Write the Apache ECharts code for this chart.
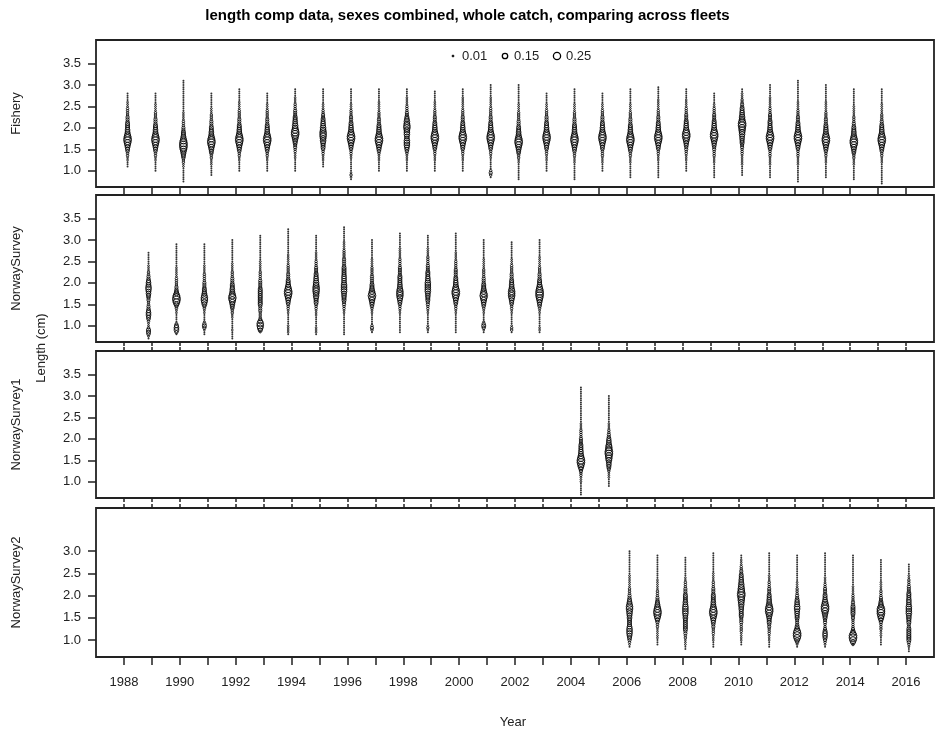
<!DOCTYPE html>
<html>
<head>
<meta charset="utf-8">
<script src="https://cdn.jsdelivr.net/npm/echarts@6.0.0/dist/echarts.min.js"></script>
<style>
  html, body { margin: 0; padding: 0; background: #fff; }
  #chart { width: 935px; height: 732px; }
</style>
</head>
<body>
<div id="chart"></div>
<script>
// length comp bubbles; bins are 0.05 cm wide
// each column: [year, first length bin, bubble level per bin going up]
const fleetNames = ['Fishery', 'NorwaySurvey', 'NorwaySurvey1', 'NorwaySurvey2']
const seasonShift = [0.13, -0.12, 0.36, 0.1] // where a fleet's column sits within its year
const binWidth = 0.05
const levelProps = [0, 0.01, 0.02, 0.035, 0.055, 0.08, 0.11, 0.15, 0.2, 0.27]
const legendProps = [0.01, 0.15, 0.25]
const yearTicks = [1988, 1989, 1990, 1991, 1992, 1993, 1994, 1995, 1996, 1997, 1998, 1999, 2000, 2001, 2002,
  2003, 2004, 2005, 2006, 2007, 2008, 2009, 2010, 2011, 2012, 2013, 2014, 2015, 2016]
const yearLabels = [1988, 1990, 1992, 1994, 1996, 1998, 2000, 2002, 2004, 2006, 2008, 2010, 2012, 2014, 2016]
const lengthTicks = [1.0, 1.5, 2.0, 2.5, 3.0, 3.5]
const lengthTicksLast = [1.0, 1.5, 2.0, 2.5, 3.0]

const fisheryComps = [
  [1988, 1.10, '11122334567899876655544433332221111'],
  [1989, 1.00, '1111122334567899876655444333222211111'],
  [1990, 0.75, '111111122334567899987655443332222111111111111111'],
  [1991, 0.90, '111112223345678998766554443332221111111'],
  [1992, 1.00, '111112233456789987665544433332222111111'],
  [1993, 1.00, '1111122334567899876655444333322211111'],
  [1994, 1.00, '111111222334456789987766554443332221111'],
  [1995, 1.10, '1112223345567788877665544332221111111'],
  [1996, 0.80, '1232111111223345678998766554443332221111111'],
  [1997, 1.00, '111112223456789987665544433322222111111'],
  [1998, 1.00, '111112223456777667778877654433322221111'],
  [1999, 1.00, '11111222334567899876655444333222211111'],
  [2000, 1.00, '111112223345678998766554443332222221111'],
  [2001, 0.85, '13431111122334567899876655444333322222111111'],
  [2002, 0.80, '111111112233456789987665544433332222111111111'],
  [2003, 1.00, '1111122233456789987665544433322211111'],
  [2004, 0.80, '1111111122233456789987665544433322221111111'],
  [2005, 1.00, '1111222333456789987665544433322211111'],
  [2006, 0.85, '111111122233456789987665544433322221111111'],
  [2007, 0.85, '1111111122233456789987665544433322222111111'],
  [2008, 1.00, '111112223344567899876655444333222211111'],
  [2009, 0.85, '1111111222333445678998766554443332211111'],
  [2010, 0.90, '11111222223334455667788998776655443322211'],
  [2011, 0.85, '11111122223334567899876655544433322222111111'],
  [2012, 0.75, '111111112222333456789987665544433322221111111111'],
  [2013, 0.85, '11111112223345678998766554443332222211111111'],
  [2014, 0.80, '1111111222334567899876655443332222211111111'],
  [2015, 0.70, '111111111122233456789987665544333222221111111']
]

const norwayComps = [
  [1989, 0.70, '12455322345665443344566776654433222111111'],
  [1990, 0.80, '1466531111223468998654433332222211111111111'],
  [1991, 0.80, '1124542111223467887655444333322221111111111'],
  [1992, 0.70, '11112111112233456789876655444333222211111111111'],
  [1993, 0.85, '2578864333444555555554444333322222111111111111'],
  [1994, 0.80, '12222111112233456789987655444333322222111111111111'],
  [1995, 0.80, '12221111122233455677888776655444333222211111111'],
  [1996, 0.80, '111111111122334455667777666655554444333322221111111'],
  [1997, 0.85, '13431111122345678987655444433332222111111111'],
  [1998, 0.85, '11111111122334567888766555544443333222221111111'],
  [1999, 0.85, '1232111112233445566777776655544433332222111111'],
  [2000, 0.85, '11111111122334567899876655444433332222111111111'],
  [2001, 0.85, '12454211122345678987655444333322222111111111'],
  [2002, 0.85, '1332111112233456788876655444333322211111111'],
  [2003, 0.85, '12211111122345678999876554443332222211111111']
]

const norway1Comps = [
  [2004, 0.70, '111111222334578998766555444333322211111111111111111'],
  [2005, 0.90, '1111222345667889988766544332221111111111111']
]

const norway2Comps = [
  [2006, 0.85, '12345677765556677887654433322222211111111111'],
  [2007, 0.90, '11122222334578998765443332222211111111111'],
  [2008, 0.80, '112223344555556677776655544433322111111111'],
  [2009, 0.85, '1112223334456789987665554443332222111111111'],
  [2010, 0.90, '11222233334445556677889988776655443322211'],
  [2011, 0.85, '1112223334455678998766554443332221111111111'],
  [2012, 0.85, '124689986544455667766544333222111111111111'],
  [2013, 0.85, '1234566543344567899876554443322211111111111'],
  [2014, 0.90, '36899754333344555544333222211111111111111'],
  [2015, 0.90, '111122233345789997654433322221111111111'],
  [2016, 0.75, '1123455555544556677776665554443332211111']
]

const allComps = [fisheryComps, norwayComps, norway1Comps, norway2Comps]

const bubbleSize = (p) => 16 * Math.sqrt(p)

// split each fleet into tiny dots (smallest level) and open rings
const toPoints = (comps, shift, dots) => {
  const pts = []
  comps.forEach(([year, lo, levels]) => {
    for (let i = 0; i < levels.length; i++) {
      const lv = +levels[i]
      if (!lv || (lv === 1) !== dots) continue
      pts.push([year + shift, +(lo + i * binWidth).toFixed(2), levelProps[lv]])
    }
  })
  return pts
}

// panel layout
const panelTops = [40, 195, 351, 508]
const panelHeights = [147, 147, 147, 149]
const yRanges = [[0.62, 4.05], [0.62, 4.05], [0.62, 4.05], [0.62, 3.97]]
const ink = '#222'
const fontFamily = 'Liberation Sans, Arial, sans-serif'

const grid = []
const xAxis = []
const yAxis = []
const series = []

fleetNames.forEach((name, k) => {
  const last = k === fleetNames.length - 1
  grid.push({
    left: 96, width: 838, top: panelTops[k], height: panelHeights[k],
    show: true, borderColor: ink, borderWidth: 1.8, backgroundColor: 'transparent'
  })
  // bottom x axis
  xAxis.push({
    type: 'value', gridIndex: k, min: 1987, max: 2017, position: 'bottom',
    axisLine: { show: false },
    splitLine: { show: false },
    axisTick: { show: true, length: last ? 8 : 4, lineStyle: { color: ink, width: 1.5 }, customValues: yearTicks },
    axisLabel: {
      show: last, customValues: yearLabels, margin: 19, color: ink, fontSize: 13, fontFamily,
      formatter: (v) => String(v)
    }
  })
  yAxis.push({
    type: 'value', gridIndex: k, min: yRanges[k][0], max: yRanges[k][1],
    axisLine: { show: false },
    splitLine: { show: false },
    axisTick: { show: true, length: 8, lineStyle: { color: ink, width: 1.5 }, customValues: last ? lengthTicksLast : lengthTicks },
    axisLabel: {
      customValues: last ? lengthTicksLast : lengthTicks, margin: 15, color: ink, fontSize: 13, fontFamily,
      formatter: (v) => v.toFixed(1)
    }
  })
  series.push({
    type: 'scatter', name: name + ' dots',
    xAxisIndex: k, yAxisIndex: k,
    data: toPoints(allComps[k], seasonShift[k], true),
    symbol: 'circle',
    symbolSize: 2,
    itemStyle: { color: '#000' },
    silent: true
  })
  series.push({
    type: 'scatter', name,
    xAxisIndex: k, yAxisIndex: k,
    data: toPoints(allComps[k], seasonShift[k], false),
    symbol: 'circle',
    symbolSize: (val) => bubbleSize(val[2]) - 0.5,
    itemStyle: { color: 'rgba(0,0,0,0)', borderColor: '#000', borderWidth: 1 },
    silent: true
  })
})

// top ticks on the lower panels (they meet the ticks of the panel above)
for (let k = 1; k < fleetNames.length; k++) {
  xAxis.push({
    type: 'value', gridIndex: k, min: 1987, max: 2017, position: 'top',
    axisLine: { show: false }, splitLine: { show: false },
    axisTick: { show: true, length: 4, lineStyle: { color: ink, width: 1.5 }, customValues: yearTicks },
    axisLabel: { show: false }
  })
}

const graphic = []
graphic.push({
  type: 'text', left: 'center', top: 8,
  style: { text: 'length comp data, sexes combined, whole catch, comparing across fleets', font: 'bold 15px ' + fontFamily, fill: '#000' },
  x: 5
})
fleetNames.forEach((name, k) => {
  graphic.push({
    type: 'text', x: 16, y: panelTops[k] + panelHeights[k] / 2, rotation: Math.PI / 2,
    style: { text: name, font: '13px ' + fontFamily, fill: ink, align: 'center', verticalAlign: 'middle' }
  })
})
graphic.push({
  type: 'text', x: 41, y: 348, rotation: Math.PI / 2,
  style: { text: 'Length (cm)', font: '13px ' + fontFamily, fill: ink, align: 'center', verticalAlign: 'middle' }
})
graphic.push({
  type: 'text', x: 513, y: 722,
  style: { text: 'Year', font: '13px ' + fontFamily, fill: ink, align: 'center', verticalAlign: 'middle' }
})
// bubble size legend
const legendX = [453, 505, 557]
legendProps.forEach((p, i) => {
  graphic.push({
    type: 'circle', shape: { cx: legendX[i], cy: 56, r: i === 0 ? 1.1 : bubbleSize(p) / 2 - 0.4 },
    style: { fill: i === 0 ? '#000' : 'none', stroke: '#000', lineWidth: i === 0 ? 0.5 : 1.3 }
  })
  graphic.push({
    type: 'text', x: legendX[i] + 9, y: 56,
    style: { text: p.toFixed(2), font: '13px ' + fontFamily, fill: ink, verticalAlign: 'middle' }
  })
})

const chart = echarts.init(document.getElementById('chart'))
chart.setOption({
  animation: false,
  backgroundColor: '#fff',
  grid, xAxis, yAxis, series, graphic
})
</script>
</body>
</html>
